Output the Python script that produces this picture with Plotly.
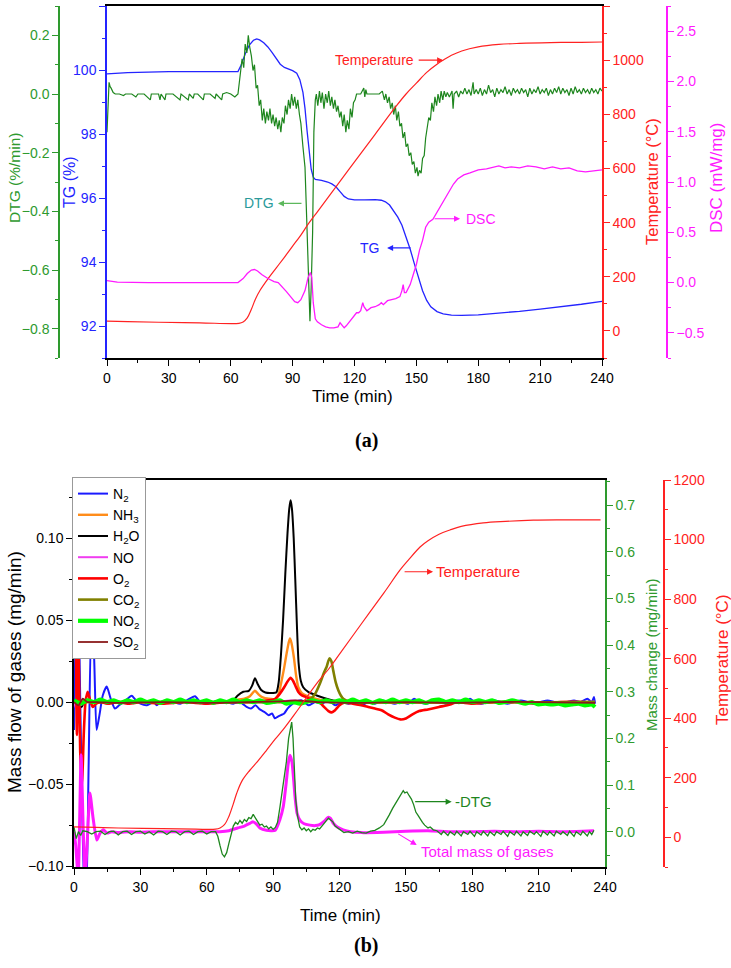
import plotly.graph_objects as go

W, H = 731, 968
def px(x): return x / W
def py(y): return 1 - y / H

# ================= Panel (a) data: (time min, value) =================
TG_pts = [(0,99.88),(10,99.92),(30,99.95),(50,99.95),(63.5,99.95),(65,100.15),(67,100.5),(69,100.78),(71,100.93),
          (72.6,100.97),(74,100.94),(76,100.85),(78,100.72),(80,100.55),(82,100.36),(84,100.18),(86,100.08),(88,100.03),
          (90,99.98),(92,99.9),(93.5,99.7),(95,99.3),(96,98.8),(97,98.1),(98,97.4),(99,96.9),(100,96.65),(101,96.58),
          (104,96.55),(107,96.5),(109,96.44),(111,96.35),(113,96.2),(115,96.05),(117,95.97),(120,95.94),(125,95.94),
          (130,95.95),(133,95.93),(135,95.88),(137,95.78),(139,95.6),(141,95.4),(143,95.15),(145,94.8),(147,94.4),
          (149,93.95),(151,93.5),(153,93.1),(155,92.8),(157,92.6),(160,92.45),(163,92.38),(167,92.34),(172,92.33),
          (180,92.35),(190,92.4),(200,92.46),(210,92.53),(220,92.6),(230,92.68),(240,92.77)]

DTG_pts = [(0,-0.13),(0.5,-0.02),(1,0.04),(1.5,0.025),(2,0.02),(3,0.005),(4,0.0),(6,0.0),(8,-0.005),(9,0.0),(12,0.0),
           (14,-0.01),(15,0.0),(18,0.0),(21,-0.02),(21.5,0.0),(25,0.0),(25.7,-0.02),(26.2,0.0),(28.1,-0.02),(28.6,0.0),
           (32,0.0),(35.4,-0.02),(35.9,0.0),(39.4,-0.02),(39.9,0.0),(41.8,-0.015),(42.3,0.0),(44,0.0),(46.7,-0.02),
           (47.2,0.0),(50,0.0),(52.4,-0.015),(52.9,0.0),(55.6,-0.02),(56.1,0.0),(58,0.005),(60,0.0),(62,-0.01),(63.5,0.0),
           (64.5,0.06),(65.5,0.12),(66.3,0.09),(67,0.17),(67.8,0.14),(68.5,0.2),(69.2,0.16),(70,0.13),(70.8,0.08),
           (71.5,0.1),(72.3,0.02),(73,0.03),(73.8,-0.04),(74.5,-0.02),(75.3,-0.09),(76,-0.05),(76.8,-0.1),(77.5,-0.06),
           (78.3,-0.09),(79,-0.05),(79.8,-0.1),(80.5,-0.07),(81.3,-0.11),(82,-0.08),(82.8,-0.12),(83.5,-0.09),
           (84.3,-0.13),(85,-0.08),(85.8,-0.1),(86.5,-0.04),(87.3,-0.07),(88,-0.02),(88.8,-0.05),(89.5,0.0),
           (90.3,-0.04),(91,-0.01),(91.8,-0.05),(92.5,-0.02),(93.3,-0.07),(94,-0.1),(95,-0.18),(96,-0.25),(96.8,-0.42),
           (97.6,-0.59),(98.4,-0.775),(99,-0.66),(99.7,-0.47),(100.3,-0.13),(101,-0.02),(101.5,0.0),(102.2,-0.04),
           (103,0.01),(103.7,-0.03),(104.4,0.005),(105.2,-0.05),(106,0.0),(106.8,-0.03),(107.5,0.01),(108.3,-0.04),
           (109,-0.01),(109.8,-0.05),(110.5,-0.02),(111.3,-0.06),(112,-0.04),(112.8,-0.08),(113.5,-0.06),(114.3,-0.11),
           (115,-0.07),(115.8,-0.13),(116.5,-0.09),(117.3,-0.12),(118,-0.05),(118.8,-0.08),(119.5,-0.03),(120.3,-0.02),
           (121,0.0),(123,0.0),(124.5,0.02),(125,-0.01),(125.5,0.015),(126,0.0),(128,0.0),(130,0.0),(132,0.0),
           (133.5,0.01),(134.5,-0.02),(135.2,0.0),(136,-0.03),(136.8,-0.01),(137.5,-0.05),(138.3,-0.03),(139,-0.07),
           (139.8,-0.04),(140.5,-0.09),(141.3,-0.06),(142,-0.11),(142.8,-0.1),(143.5,-0.15),(144.3,-0.13),(145,-0.18),
           (145.8,-0.17),(146.5,-0.21),(147.3,-0.2),(148,-0.24),(148.8,-0.23),(149.5,-0.27),(150.3,-0.25),(150.8,-0.28),
           (151.5,-0.26),(152.3,-0.27),(153,-0.22),(153.8,-0.21),(154.5,-0.15),(155.3,-0.12),(156,-0.08),(156.8,-0.09),
           (157.5,-0.03),(158.3,-0.06),(159,-0.01),(159.8,-0.04),(160.5,0.0),(161.3,-0.03),(162,0.01),(162.8,-0.02),
           (163.5,0.01),(164.3,-0.01),(165,0.005),(166,-0.01),(167.3,0.01),(167.8,-0.05),(168.3,0.0),(169.5,0.01),
           (170.5,-0.01),(171.5,0.01),(172.5,0.0),(173.5,0.02),(174.5,0.0),(175.5,0.015),(176.5,-0.005),(177.5,0.04),
           (178,0.0),(179,0.015),(180,0.0),(181,0.02),(182,-0.005),(183,0.015),(184,0.0),(185,0.03),(186,0.005),
           (187,0.015),(188,-0.01),(189,0.02),(190,0.0),(191,0.015),(192,0.005),(193,0.025),(194,0.0),(195,0.015),
           (196,-0.005),(197,0.02),(198,0.005),(199,0.015),(200,0.0),(201,0.02),(202,0.005),(203,0.015),(204,-0.01),
           (205,0.02),(206,0.0),(207,0.015),(208,0.005),(209,0.025),(210,0.0),(211,0.015),(212,0.005),(213,0.02),
           (214,-0.005),(215,0.015),(216,0.0),(217,0.02),(218,0.005),(219,0.025),(220,0.0),(221,0.02),(222,0.005),
           (223,0.015),(224,-0.005),(225,0.02),(226,0.0),(227,0.025),(228,0.005),(229,0.015),(230,0.0),(231,0.02),
           (232,0.005),(233,0.015),(234,0.0),(235,0.02),(236,0.005),(237,0.015),(238,0.0),(239,0.02),(240,0.01)]

DSC_pts = [(0,0.02),(5,0.005),(20,0.0),(40,0.0),(63.5,0.0),(66,0.04),(68,0.09),(70,0.125),(71.5,0.13),(73,0.115),
           (75,0.08),(78,0.04),(81,0.01),(83,0.0),(85,-0.04),(87,-0.09),(89,-0.14),(91,-0.19),(92.5,-0.2),(94,-0.17),
           (96,-0.08),(97.5,0.05),(98.6,0.1),(99.3,0.05),(100,-0.2),(101,-0.36),(102,-0.39),(104,-0.42),(106,-0.44),
           (108,-0.45),(110,-0.45),(112,-0.44),(113,-0.4),(114,-0.43),(115,-0.45),(116,-0.43),(118,-0.38),(120,-0.33),
           (121,-0.3),(122,-0.3),(123,-0.28),(124,-0.2),(124.6,-0.24),(126,-0.28),(128,-0.25),(130,-0.24),(132,-0.22),
           (133,-0.2),(134,-0.22),(136,-0.18),(138,-0.17),(140,-0.16),(142,-0.14),(143,-0.08),(143.6,-0.02),
           (144.2,-0.1),(145,-0.1),(147,-0.02),(148.5,0.08),(150,0.18),(151.5,0.32),(153,0.42),(154.5,0.55),(156,0.6),
           (158,0.63),(160,0.7),(162,0.78),(164,0.85),(166,0.92),(168,0.98),(170,1.03),(173,1.07),(176,1.09),(180,1.12),
           (184,1.13),(188,1.15),(190,1.16),(193,1.14),(196,1.15),(200,1.14),(204,1.16),(208,1.15),(212,1.13),
           (216,1.15),(220,1.13),(224,1.14),(228,1.11),(232,1.1),(236,1.11),(240,1.12)]

TEMP_A_pts = [(0,36),(10,34),(25,32),(45,30),(64,28),(66,33),(68,48),(70,80),(72,118),(74.3,151),(78,192),(82,232),
              (86,272),(90,313),(94,354),(97.6,395),(102,440),(110,522),(120,624),(130,726),(140,828),(145,875),
              (150,915),(155,955),(160,985),(163,1000),(167,1018),(172,1034),(180,1049),(190,1058),(200,1062),
              (215,1065),(230,1066),(240,1067)]

# ================= Panel (b) data =================
N2_pts = [(0,-0.017),(0.8,0.05),(1.6,0.09),(2.6,0.02),(3.6,-0.06),(4.6,-0.11),(5.5,-0.12),(6.6,-0.04),(7.8,0.045),
          (9.0,0.03),(10.2,-0.017),(11.5,-0.008),(13.0,0.004),(14.8,0.0094),(16.6,0.002),(18.5,-0.004),(20.4,-0.002),
          (22.3,0.0),(24.2,0.002),(26.1,0.0038),(28,0.001),(30,-0.001),(33,-0.002),(36,0.0),(37.4,-0.002),(39,0.0),
          (42,0.001),(45,0.0),(48,-0.001),(51,0.001),(54.7,0.0035),(57,0.0),(60,-0.001),(63,0.0),(66,0.001),(69,0.0),
          (72,-0.001),(75,0.0),(78,-0.003),(80,-0.004),(82,-0.002),(84,-0.0045),(86,-0.006),(88,-0.008),(89.5,-0.007),
          (90.8,-0.0099),(92,-0.009),(93.5,-0.008),(95,-0.007),(96.5,-0.004),(98,-0.002),(100,0.0),(103,0.001),
          (106,-0.002),(109,0.0),(112,-0.001),(115,0.001),(118,-0.002),(121,0.0),(124,-0.001),(127,0.0),(130,-0.002),
          (133,0.0),(136,-0.001),(139,0.001),(142,0.0),(145,-0.001),(148,0.0),(151,-0.001),(153.7,0.002),(156,0.0),
          (159,-0.001),(162,0.0),(165,0.001),(168,-0.001),(171,0.0),(174,0.001),(177,0.0),(179,0.002),(181,0.0),
          (184,-0.001),(187,0.0),(190,0.001),(193,0.0),(196,-0.001),(199,0.0),(202,0.001),(205,0.0),(208,-0.001),
          (211,0.0),(214,0.001),(217,0.0),(220,-0.001),(223,0.0),(226,0.001),(229,0.0),(232,0.002),(234,0.0),
          (235,0.003),(235.5,-0.001)]

NH3_pts = [(0,0.0),(60,0.0),(72,0.0),(74,0.0015),(77,0.002),(79.5,0.0035),(81.8,0.0069),(83.5,0.0045),(85,0.003),
           (88,0.002),(91,0.002),(92.5,0.005),(93.9,0.0134),(95,0.021),(96.1,0.0297),(97,0.036),(97.6,0.0388),
           (98.3,0.036),(99.4,0.027),(100.4,0.016),(101.4,0.009),(103,0.0055),(105,0.004),(108,0.0025),(111,0.0015),
           (115,0.0008),(120,0.0),(235.5,0.0)]

H2O_pts = [(0,0.0),(2,0.002),(3.5,-0.003),(5,0.001),(8,0.0),(20,0.0),(40,0.0),(60,0.0),(70,0.0),(72,0.001),(74,0.004),
           (76.5,0.0063),(79,0.0068),(80.5,0.01),(81.8,0.0145),(83,0.011),(84.5,0.0075),(86.5,0.0058),(89,0.0055),
           (91.5,0.006),(92.5,0.012),(93.5,0.028),(94.5,0.05),(95.5,0.078),(96.5,0.103),(97.3,0.118),(97.9,0.123),
           (98.5,0.118),(99.3,0.1),(100,0.075),(100.8,0.045),(101.5,0.024),(102.5,0.013),(103.6,0.009),(106,0.006),
           (109.7,0.004),(113,0.0025),(117,0.001),(121.7,0.0),(130,0.0),(150,0.0),(180,0.0),(210,0.0),(235.5,0.0)]

NO_pts = [(0,0.0),(1,-0.004),(2,0.003),(3,-0.002),(5,0.0),(10,0.0),(30,0.0),(60,0.0),(90,0.0),(98,0.001),
          (110,0.0),(150,0.0),(200,0.0),(235.5,0.0)]

O2_pts = [(0,0.03),(0.6,0.08),(1.3,-0.02),(2.0,0.04),(2.8,-0.03),(3.6,-0.05),(4.4,-0.02),(5.2,0.0),(6.2,0.0063),
          (7.3,0.001),(8.5,-0.003),(10,-0.001),(12,0.0),(15,-0.001),(20,0.0),(25,-0.001),(30,0.0),(40,-0.001),(50,0.0),
          (60,-0.001),(70,0.0),(80,0.0),(88,0.001),(91,0.002),(93,0.005),(95,0.009),(96.5,0.0125),(97.9,0.0148),
          (99,0.013),(100.2,0.0095),(101.5,0.006),(103,0.004),(105,0.003),(108,0.001),(111,0.0),(113,-0.003),
          (115,-0.0055),(116.5,-0.0063),(118,-0.005),(120,-0.002),(122,-0.0005),(126,-0.001),(130,-0.002),
          (133,-0.003),(136,-0.004),(139,-0.005),(142,-0.0075),(145,-0.0095),(147.5,-0.0106),(150,-0.01),
          (153,-0.0075),(156,-0.0055),(160,-0.0045),(165,-0.003),(170,-0.0015),(173,0.0),(180,-0.001),(190,0.0),
          (200,0.0),(210,-0.001),(220,0.0),(230,0.0),(235.5,-0.001)]

CO2_pts = [(0,0.0),(60,0.0),(100,0.0),(104,0.0005),(106.7,0.0015),(109,0.005),(111.2,0.0114),(113,0.018),
           (114.2,0.0215),(115.4,0.0266),(116.3,0.025),(117.2,0.019),(118.3,0.012),(119.5,0.007),(120.6,0.004),
           (121.7,0.002),(124,0.0005),(128,0.0),(235.5,0.0)]

NO2_pts = [(0,0.001),(3,-0.001),(6,0.001),(9,0.0),(12,0.0015),(15,0.0),(18,0.001),(21,-0.0005),(24,0.001),(27,0.0),
           (30,0.0015),(33,0.0),(36,0.001),(39,-0.0005),(42,0.001),(45,0.0),(48,0.0015),(51,0.0),(54,0.001),(57,0.0),
           (60,0.001),(63,-0.0005),(66,0.001),(69,0.0),(72,0.0015),(75,0.0),(78,0.001),(81,0.0),(84,0.001),
           (87,-0.0005),(90,0.0),(93,0.001),(96,-0.001),(99,0.0),(102,-0.001),(105,0.0),(108,0.001),(111,0.0),
           (114,0.001),(117,0.0),(120,0.001),(123,0.0),(126,0.0015),(129,0.0),(132,0.001),(135,-0.0005),(138,0.001),
           (141,0.0),(144,0.0015),(147,0.0),(150,0.001),(153,0.0),(156,0.001),(159,-0.0005),(162,0.001),(165,0.0015),
           (168,0.0),(171,0.001),(174,0.0),(177,0.0015),(180,0.0),(183,0.001),(186,0.0),(189,0.001),(192,-0.0005),
           (195,0.0),(198,0.001),(201,0.0),(204,-0.001),(207,0.0),(210,-0.0015),(213,-0.001),(216,-0.0015),
           (219,-0.001),(222,-0.002),(225,-0.0015),(228,-0.001),(231,-0.002),(234,-0.0015),(235.5,-0.003)]

SO2_pts = [(0,0.0),(2,-0.002),(4,0.002),(6,0.0),(10,0.0),(20,-0.0005),(40,0.0),(60,-0.0005),(80,0.0),(95,0.0005),
           (100,0.001),(110,0.0),(130,-0.0005),(150,0.0),(170,-0.0005),(190,0.0),(210,0.0),(235.5,-0.0005)]

NEG_DTG_pts = [(0,0.01),(1,-0.015),(2,0.0),(3,-0.008),(4,0.002),(6,0.0),(8,-0.005),(10,0.0),(12,0.001),(14,-0.006),
               (16,0.0),(18,0.001),(20,-0.007),(22,0.0),(24,0.001),(26,-0.006),(28,0.0),(30,0.001),(32,-0.005),(34,0.0),
               (36,-0.007),(38,0.001),(40,0.0),(42,-0.006),(44,0.001),(46,0.0),(48,-0.007),(50,0.0),(52,0.001),
               (54,-0.006),(56,0.0),(58,0.001),(60,-0.005),(62,0.0),(64,0.0),(65,-0.01),(66,-0.03),(67,-0.048),
               (68,-0.054),(69,-0.045),(70,-0.025),(71,-0.005),(72,0.012),(73,0.02),(74,0.016),(75,0.024),(76,0.018),
               (77,0.026),(78,0.022),(79,0.03),(80,0.028),(81,0.037),(82,0.03),(83,0.022),(84,0.014),(85,0.016),
               (86,0.01),(87,0.012),(88,0.006),(89,0.01),(90,0.005),(91,0.009),(92,0.02),(93,0.05),(94,0.08),(95,0.115),
               (96,0.15),(97,0.2),(97.8,0.225),(98.4,0.235),(99,0.2),(99.6,0.13),(100.2,0.07),(101,0.035),(102,0.01),
               (103,0.004),(104,0.008),(105,0.002),(106,0.006),(107,0.0),(108,0.005),(109,0.003),(110,0.008),
               (111,0.006),(112,0.012),(113,0.018),(114,0.024),(115,0.029),(116,0.025),(117,0.021),(118,0.012),
               (119,0.008),(120,0.004),(121,0.001),(122,-0.002),(124,0.0),(126,-0.003),(128,0.001),(130,-0.002),
               (132,-0.003),(134,0.001),(136,0.003),(138,0.008),(140,0.015),(141.3,0.025),(142.5,0.036),(144,0.05),
               (145,0.058),(146,0.068),(147,0.075),(148,0.082),(148.8,0.088),(149.5,0.083),(150.5,0.085),
               (151.5,0.077),(152.5,0.07),(153.5,0.058),(154.5,0.042),(155.5,0.035),(156.5,0.026),(157.5,0.02),
               (158.5,0.014),(160,0.008),(161,0.01),(162.4,0.004),(164,0.002),(166,-0.006),(167,0.001),(169,-0.008),
               (170,0.0),(172,-0.007),(173,0.001),(175,-0.009),(176,0.0),(178,-0.006),(179,0.001),(181,-0.01),
               (182,0.0),(184,-0.007),(185,0.001),(187,-0.009),(188,0.0),(190,-0.008),(191,0.0),(193,-0.006),
               (194,0.001),(196,-0.01),(197,0.0),(199,-0.007),(200,0.001),(202,-0.009),(203,0.0),(205,-0.008),
               (206,0.001),(208,-0.006),(209,0.0),(211,-0.01),(212,0.001),(214,-0.007),(215,0.0),(217,-0.009),
               (218,0.001),(220,-0.006),(221,0.0),(223,-0.008),(224,0.001),(226,-0.01),(227,0.0),(229,-0.007),
               (230,0.001),(232,-0.009),(233,0.0),(234,-0.006),(235,0.003)]

TOTAL_pts = [(0,0.0),(0.8,-0.03),(1.9,-0.1),(3.2,0.165),(4.2,0.0),(5.0,-0.1),(6.0,-0.02),(7.2,0.083),(8.6,0.03),
             (10.3,-0.018),(11.8,-0.003),(13.3,0.004),(15,-0.003),(17,0.0),(20,-0.002),(25,0.0),(30,-0.001),(40,0.0),
             (50,0.0),(60,0.0),(66,0.0),(70,0.002),(74,0.008),(77,0.012),(79.5,0.018),(81,0.021),(82.5,0.016),
             (84,0.008),(87,0.003),(91,0.003),(93,0.025),(94.6,0.054),(95.8,0.1),(96.8,0.145),(97.6,0.164),
             (98.5,0.15),(99.3,0.11),(99.9,0.075),(100.8,0.04),(102.1,0.025),(104,0.017),(106.6,0.014),(109,0.013),
             (111,0.015),(113,0.022),(115,0.031),(116,0.028),(117.2,0.018),(119,0.01),(121.7,0.004),(125,0.0),
             (130,-0.002),(140,-0.001),(150,0.001),(160,0.002),(170,0.0),(180,0.0),(190,0.001),(200,0.0),
             (210,0.001),(220,0.0),(230,0.001),(235,0.002)]

TEMP_B_pts = [(0,35),(10,33),(20,31),(40,29),(55,27),(64,27),(66,31),(68,42),(70,70),(72,112),(73.5,147),(76,190),
              (79.5,225),(83,255),(87,292),(91,330),(94.6,362),(100,416),(105,468),(110,519),(115.7,571),(120,615),
              (130,718),(140,820),(147.3,897),(151,930),(156.4,975),(160,996),(165,1018),(169.9,1032),(175,1044),
              (185,1056),(195,1061),(207.6,1065),(220,1066),(238,1066)]

GASES = [("N<sub>2</sub>", N2_pts, "#1a1aff", 2.0),
         ("NH<sub>3</sub>", NH3_pts, "#ff8c1a", 2.4),
         ("H<sub>2</sub>O", H2O_pts, "#000000", 2.0),
         ("NO", NO_pts, "#f03cf0", 2.0),
         ("O<sub>2</sub>", O2_pts, "#ff0000", 2.6),
         ("CO<sub>2</sub>", CO2_pts, "#808000", 2.6),
         ("NO<sub>2</sub>", NO2_pts, "#00ff00", 4.2),
         ("SO<sub>2</sub>", SO2_pts, "#8b1a1a", 1.8)]

def unz(p):
    return [a for a, _ in p], [b for _, b in p]

BLUE = "#2424ff"
GREEN_AX = "#2e9a2e"
GREEN_LN = "#1e861e"
RED = "#ff2222"
MAG = "#ff1aff"
FONT = "Liberation Sans, Arial, sans-serif"

fig = go.Figure()

# ---- panel (a)
x, y = unz(TG_pts)
fig.add_trace(go.Scatter(x=x, y=y, xaxis="x", yaxis="y", mode="lines", line=dict(color=BLUE, width=1.3), showlegend=False))
x, y = unz(DTG_pts)
fig.add_trace(go.Scatter(x=x, y=y, xaxis="x", yaxis="y2", mode="lines", line=dict(color=GREEN_LN, width=1.2), showlegend=False))
x, y = unz(TEMP_A_pts)
fig.add_trace(go.Scatter(x=x, y=y, xaxis="x", yaxis="y3", mode="lines", line=dict(color=RED, width=1.2, shape="spline"), showlegend=False))
x, y = unz(DSC_pts)
fig.add_trace(go.Scatter(x=x, y=y, xaxis="x", yaxis="y4", mode="lines", line=dict(color=MAG, width=1.3), showlegend=False))

# ---- panel (b)
for name, pts, col, w in GASES:
    x, y = unz(pts)
    fig.add_trace(go.Scatter(x=x, y=y, xaxis="x2", yaxis="y5", mode="lines", name=name,
                             line=dict(color=col, width=w, shape="spline", smoothing=0.6)))
x, y = unz(TOTAL_pts)
fig.add_trace(go.Scatter(x=x, y=y, xaxis="x2", yaxis="y6", mode="lines", line=dict(color=MAG, width=3, shape="spline", smoothing=0.5), showlegend=False))
x, y = unz(NEG_DTG_pts)
fig.add_trace(go.Scatter(x=x, y=y, xaxis="x2", yaxis="y6", mode="lines", line=dict(color=GREEN_LN, width=1.3), showlegend=False))
x, y = unz(TEMP_B_pts)
fig.add_trace(go.Scatter(x=x, y=y, xaxis="x2", yaxis="y7", mode="lines", line=dict(color=RED, width=1.2, shape="spline"), showlegend=False))

TICKF = 14
def yax(color, rng, dtick, minor, fmt=None, **kw):
    d = dict(range=rng, dtick=dtick, tick0=0, ticks="outside", ticklen=6, tickwidth=1.3, tickcolor=color,
             showline=True, linecolor=color, linewidth=1.5, showgrid=False, zeroline=False, automargin=False,
             tickfont=dict(color=color, size=TICKF, family=FONT),
             minor=dict(dtick=minor, tick0=0, ticks="outside", ticklen=3, tickcolor=color, tickwidth=1.2, showgrid=False))
    if fmt:
        d["tickformat"] = fmt
    d.update(kw)
    return d

def xax(domain, anchor):
    return dict(domain=domain, anchor=anchor, range=[0, 240], dtick=30, tick0=0, ticks="outside", ticklen=6,
                tickwidth=1.3, tickcolor="black", showline=True, linecolor="black", linewidth=1.5, mirror=True,
                showgrid=False, zeroline=False, automargin=False, tickfont=dict(color="black", size=TICKF, family=FONT),
                minor=dict(dtick=15, tick0=0, ticks="outside", ticklen=3, tickcolor="black", tickwidth=1.2, showgrid=False))

TOP_DOM = [py(358), py(6)]
BOT_DOM = [py(867), py(480)]

layout = dict(
    width=W, height=H, autosize=False, margin=dict(l=0, r=0, t=0, b=0, pad=0),
    paper_bgcolor="white", plot_bgcolor="white",
    font=dict(family=FONT, size=14, color="black"),
    xaxis=xax([px(107), px(602)], "y"),
    yaxis=yax(BLUE, [91, 102], 2, 1, domain=TOP_DOM, anchor="x", side="left"),
    yaxis2=yax(GREEN_AX, [-0.9, 0.3], 0.2, 0.1, ".1f", overlaying="y", anchor="free", position=px(59), side="left"),
    yaxis3=yax(RED, [-100, 1200], 200, 100, overlaying="y", anchor="x", side="right"),
    yaxis4=yax(MAG, [-0.75, 2.75], 0.5, 0.25, ".1f", overlaying="y", anchor="free", position=px(667), side="right"),
    xaxis2=xax([px(74), px(605)], "y5"),
    yaxis5=yax("black", [-0.1006, 0.1354], 0.05, 0.025, ".2f", domain=BOT_DOM, anchor="x2", side="left"),
    yaxis6=yax(GREEN_AX, [-0.0757, 0.7536], 0.1, 0.05, ".1f", overlaying="y5", anchor="x2", side="right"),
    yaxis7=yax(RED, [-100, 1200], 200, 100, overlaying="y5", anchor="free", position=px(664), side="right"),
    legend=dict(x=px(72), y=py(477), xanchor="left", yanchor="top", bgcolor="white", bordercolor="#999999",
                borderwidth=1, font=dict(size=14, family=FONT, color="black"), itemwidth=30, tracegroupgap=0),
    showlegend=True,
)
fig.update_layout(**layout)

ann = []
def title(text, xp, yp, color, size=16, angle=-90, **kw):
    d = dict(text=text, x=px(xp), y=py(yp), xref="paper", yref="paper", showarrow=False, textangle=angle,
             font=dict(color=color, size=size, family=FONT), xanchor="center", yanchor="middle")
    d.update(kw)
    ann.append(d)

# axis titles
title("DTG (%/min)", 14, 178, GREEN_AX, 15.5)
title("TG (%)", 70, 182, BLUE, 16)
title("Temperature (°C)", 652, 182, RED, 16.5)
title("DSC (mW/mg)", 716, 178, MAG, 17)
title("Time (min)", 352, 396, "black", 17, angle=0)
title("Mass flow of gases (mg/min)", 14, 672, "black", 19)
title("Mass change (mg/min)", 651, 655, GREEN_AX, 15)
title("Temperature (°C)", 722, 660, RED, 17)
title("Time (min)", 340, 915, "black", 17, angle=0)
title("<b>(a)</b>", 366, 440, "black", 20, angle=0)
title("<b>(b)</b>", 366, 945, "black", 20, angle=0)
ann[-1]["font"]["family"] = "Liberation Serif, Times New Roman, serif"
ann[-2]["font"]["family"] = "Liberation Serif, Times New Roman, serif"

# curve labels and arrows
def label(text, x, y, xr, yr, color, size=14):
    ann.append(dict(text=text, x=x, y=y, xref=xr, yref=yr, showarrow=False, xanchor="center", yanchor="middle",
                    font=dict(color=color, size=size, family=FONT)))
def arrow(x, y, xr, yr, ax, ay, color):
    ann.append(dict(text="", x=x, y=y, xref=xr, yref=yr, showarrow=True, ax=ax, ay=ay, arrowhead=2,
                    arrowsize=1.1, arrowwidth=1.1, arrowcolor=color))

label("Temperature", 129.5, 1000, "x", "y3", RED)
arrow(163, 1000, "x", "y3", -26, 0, RED)
label("DTG", 73.7, -0.373, "x", "y2", "#2a9a9a")
arrow(82.9, -0.373, "x", "y2", 25, 0, "#5cb85c")
label("TG", 127.5, 94.44, "x", "y", BLUE)
arrow(135.8, 94.44, "x", "y", 25, 0, BLUE)
label("DSC", 181.3, 0.635, "x", "y4", MAG)
arrow(171.2, 0.635, "x", "y4", -27, 0, MAG)

label("Temperature", 182.4, 892, "x2", "y7", RED, 15)
arrow(162.3, 892, "x2", "y7", -30, 0, RED)
label("-DTG", 180.5, 0.0643, "x2", "y6", GREEN_LN, 15)
arrow(170.7, 0.0643, "x2", "y6", -38, 0, GREEN_LN)
label("Total mass of gases", 186.9, -0.0429, "x2", "y6", MAG, 15)
arrow(154.9, -0.0285, "x2", "y6", -20, -12, MAG)

fig.update_layout(annotations=ann)
fig.write_html("out.html", config={"displayModeBar": False},
               post_script="document.body.style.margin='0px';document.body.style.padding='0px';")
